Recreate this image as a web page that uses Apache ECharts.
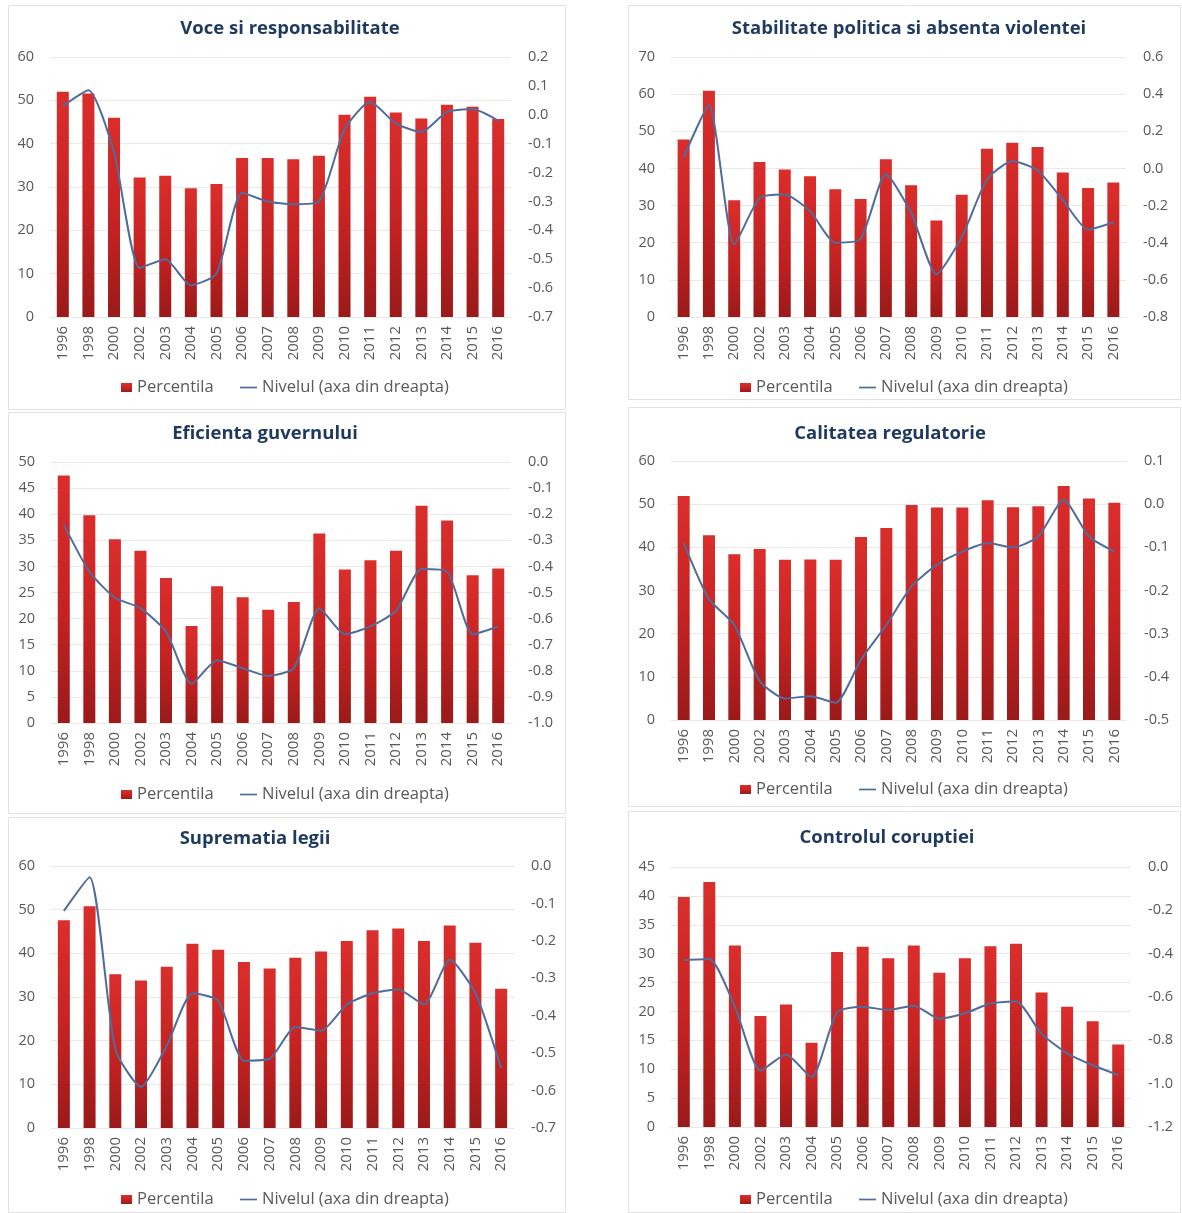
<!DOCTYPE html>
<html>
<head>
<meta charset="utf-8">
<title>Indicatori de guvernanta 1996-2016</title>
<script src="https://cdn.jsdelivr.net/npm/echarts@6/dist/echarts.min.js"></script>
<style>
  html, body { margin: 0; padding: 0; background: #ffffff; }
  #chart { width: 1182px; height: 1213px; }
</style>
</head>
<body>
<div id="chart"></div>
<script>
// Years on the category axis
const years = ['1996', '1998', '2000', '2002', '2003', '2004', '2005', '2006', '2007',
               '2008', '2009', '2010', '2011', '2012', '2013', '2014', '2015', '2016'];

// Panel titles
const titles = [
  'Voce si responsabilitate',
  'Stabilitate politica si absenta violentei',
  'Eficienta guvernului',
  'Calitatea regulatorie',
  'Suprematia legii',
  'Controlul coruptiei'
];

// Legend names
const barName = 'Percentila';
const lineName = 'Nivelul (axa din dreapta)';

// Percentile rank (bars, left axis)
const vocePerc  = [52.0, 51.6, 46.0, 32.2, 32.6, 29.7, 30.7, 36.7, 36.7, 36.4, 37.2, 46.7, 50.8, 47.2, 45.8, 49.0, 48.5, 45.7];
const stabPerc  = [47.8, 60.9, 31.4, 41.7, 39.7, 37.9, 34.4, 31.8, 42.5, 35.5, 26.0, 32.9, 45.3, 46.9, 45.8, 38.9, 34.7, 36.2];
const eficPerc  = [47.4, 39.8, 35.2, 33.0, 27.8, 18.6, 26.2, 24.1, 21.7, 23.2, 36.3, 29.4, 31.2, 33.0, 41.6, 38.8, 28.3, 29.6];
const calitPerc = [51.9, 42.8, 38.4, 39.6, 37.1, 37.2, 37.1, 42.4, 44.5, 49.8, 49.2, 49.2, 50.9, 49.3, 49.5, 54.2, 51.3, 50.3];
const suprPerc  = [47.6, 50.8, 35.2, 33.8, 36.9, 42.2, 40.8, 38.0, 36.5, 39.0, 40.4, 42.8, 45.3, 45.7, 42.8, 46.4, 42.4, 31.9];
const corPerc   = [39.8, 42.4, 31.4, 19.2, 21.2, 14.6, 30.3, 31.2, 29.2, 31.4, 26.7, 29.2, 31.3, 31.7, 23.3, 20.8, 18.3, 14.3];

// Estimate level (line, right axis)
const voceNivel  = [0.03, 0.085, -0.13, -0.53, -0.50, -0.59, -0.55, -0.27, -0.30, -0.31, -0.30, -0.05, 0.045, -0.03, -0.06, 0.01, 0.02, -0.02];
const stabNivel  = [0.06, 0.34, -0.41, -0.16, -0.14, -0.23, -0.40, -0.38, -0.03, -0.24, -0.57, -0.37, -0.06, 0.04, -0.01, -0.17, -0.33, -0.29];
const eficNivel  = [-0.24, -0.42, -0.52, -0.56, -0.65, -0.85, -0.76, -0.79, -0.82, -0.79, -0.56, -0.66, -0.63, -0.57, -0.41, -0.42, -0.66, -0.63];
const calitNivel = [-0.09, -0.22, -0.28, -0.41, -0.45, -0.445, -0.46, -0.36, -0.28, -0.19, -0.14, -0.11, -0.09, -0.10, -0.075, 0.01, -0.075, -0.11];
const suprNivel  = [-0.12, -0.03, -0.49, -0.59, -0.48, -0.34, -0.36, -0.52, -0.515, -0.43, -0.44, -0.37, -0.34, -0.33, -0.37, -0.25, -0.34, -0.54];
const corNivel   = [-0.43, -0.425, -0.645, -0.94, -0.865, -0.97, -0.67, -0.645, -0.66, -0.64, -0.70, -0.675, -0.63, -0.62, -0.77, -0.86, -0.915, -0.96];

// Axis ranges: [min, max, interval]
const leftAxes  = [[0, 60, 10], [0, 70, 10], [0, 50, 5], [0, 60, 10], [0, 60, 10], [0, 45, 5]];
const rightAxes = [[-0.7, 0.2, 0.1], [-0.8, 0.6, 0.2], [-1.0, 0.0, 0.1], [-0.5, 0.1, 0.1], [-0.7, 0.0, 0.1], [-1.2, 0.0, 0.2]];

const percSeries  = [vocePerc, stabPerc, eficPerc, calitPerc, suprPerc, corPerc];
const nivelSeries = [voceNivel, stabNivel, eficNivel, calitNivel, suprNivel, corNivel];

// Layout of the six panels (pixels)
const layout = [
  { grid: { left: 50,  top: 57,  width: 461, height: 260 }, titleX: 285, titleY: 14,  legendX: 121, legendY: 379,  box: [8, 5, 557, 404] },
  { grid: { left: 671, top: 57,  width: 455, height: 260 }, titleX: 904, titleY: 14,  legendX: 740, legendY: 379,  box: [628, 5, 552, 394] },
  { grid: { left: 51,  top: 462, width: 460, height: 261 }, titleX: 260, titleY: 419, legendX: 121, legendY: 786,  box: [8, 412, 557, 401] },
  { grid: { left: 671, top: 461, width: 456, height: 259 }, titleX: 885, titleY: 419, legendX: 740, legendY: 781,  box: [628, 407, 552, 399] },
  { grid: { left: 51,  top: 866, width: 463, height: 262 }, titleX: 250, titleY: 824, legendX: 121, legendY: 1191, box: [8, 817, 557, 395] },
  { grid: { left: 671, top: 867, width: 460, height: 260 }, titleX: 882, titleY: 823, legendX: 740, legendY: 1191, box: [628, 811, 552, 401] }
];

const FONT = '"Open Sans", Lato, sans-serif';
const GRAY = '#595959';
const TITLE_COLOR = '#1F3A5F';
const LINE_COLOR = '#4E6D9C';

const barGradient = new echarts.graphic.LinearGradient(0, 0, 0, 1, [
  { offset: 0, color: '#DA2E2C' },
  { offset: 0.55, color: '#C42222' },
  { offset: 1, color: '#9A1A1A' }
]);

const fmt1 = v => (Math.abs(v) < 1e-9 ? '0.0' : v.toFixed(1));

const option = {
  backgroundColor: '#ffffff',
  animation: false,
  textStyle: { fontFamily: FONT },
  title: [],
  legend: [],
  grid: [],
  xAxis: [],
  yAxis: [],
  series: [],
  graphic: []
};

layout.forEach((p, i) => {
  option.graphic.push({
    type: 'rect',
    silent: true,
    shape: { x: p.box[0] + 0.5, y: p.box[1] + 0.5, width: p.box[2], height: p.box[3] },
    style: { fill: 'none', stroke: '#E2E2E2', lineWidth: 1 }
  });

  option.title.push({
    text: titles[i],
    left: p.titleX,
    top: p.titleY,
    textAlign: 'center',
    textStyle: { fontFamily: FONT, fontSize: 18.5, fontWeight: 'bold', color: TITLE_COLOR }
  });

  option.legend.push({
    left: p.legendX,
    top: p.legendY,
    data: [{ name: barName, icon: 'rect' }],
    itemWidth: 11,
    itemHeight: 9,
    itemGap: 0,
    textStyle: { fontFamily: FONT, fontSize: 16.5, color: GRAY },
    padding: 0,
    selectedMode: false
  });
  option.legend.push({
    left: p.legendX + 119,
    top: p.legendY,
    data: [{ name: lineName, icon: 'path://M0,0 L20,0 L20,2 L0,2 Z' }],
    itemWidth: 17,
    itemHeight: 2,
    itemStyle: { color: LINE_COLOR },
    textStyle: { fontFamily: FONT, fontSize: 16.5, color: GRAY },
    padding: 0,
    selectedMode: false
  });

  option.grid.push(Object.assign({ containLabel: false }, p.grid));

  option.xAxis.push({
    type: 'category',
    gridIndex: i,
    data: years,
    axisLine: { show: false },
    axisTick: { show: false },
    axisLabel: { rotate: 90, color: GRAY, fontSize: 15, fontFamily: FONT, margin: 9, interval: 0 },
    splitLine: { show: false }
  });

  const L = leftAxes[i];
  option.yAxis.push({
    type: 'value',
    gridIndex: i,
    position: 'left',
    min: L[0], max: L[1], interval: L[2],
    axisLine: { show: false },
    axisTick: { show: false },
    axisLabel: { color: GRAY, fontSize: 14.5, fontFamily: FONT, margin: 16 },
    splitLine: { show: true, lineStyle: { color: '#E9E9E9', width: 1 } }
  });

  const R = rightAxes[i];
  option.yAxis.push({
    type: 'value',
    gridIndex: i,
    position: 'right',
    min: R[0], max: R[1], interval: R[2],
    axisLine: { show: false },
    axisTick: { show: false },
    axisLabel: { color: GRAY, fontSize: 14.5, fontFamily: FONT, margin: 17, formatter: fmt1 },
    splitLine: { show: false }
  });

  option.series.push({
    name: barName,
    type: 'bar',
    xAxisIndex: i,
    yAxisIndex: 2 * i,
    data: percSeries[i],
    barWidth: 12,
    itemStyle: { color: barGradient },
    emphasis: { disabled: true }
  });

  option.series.push({
    name: lineName,
    type: 'line',
    xAxisIndex: i,
    yAxisIndex: 2 * i + 1,
    data: nivelSeries[i],
    symbol: 'none',
    smooth: 0.2,
    lineStyle: { color: LINE_COLOR, width: 2 },
    itemStyle: { color: LINE_COLOR },
    z: 3
  });
});

const chart = echarts.init(document.getElementById('chart'), null, { renderer: 'canvas' });
chart.setOption(option);
</script>
</body>
</html>
